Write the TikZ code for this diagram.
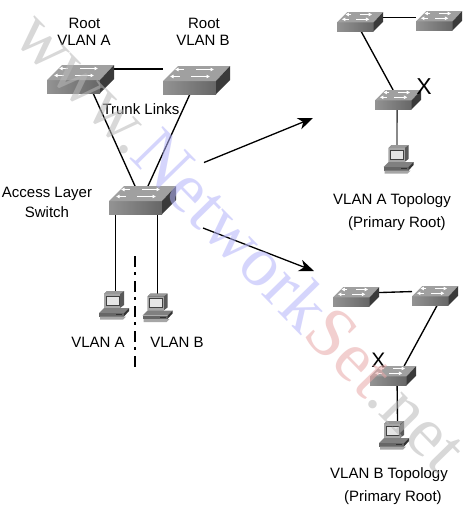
\documentclass[tikz,border=0pt]{standalone}
\usepackage{fontspec}
\setmainfont{Liberation Sans}
\newfontfamily\wmfont{Liberation Serif}
\usetikzlibrary{arrows.meta,backgrounds}
\definecolor{swfront}{HTML}{808080}
\definecolor{swtop}{HTML}{A0A0A0}
\definecolor{swside}{HTML}{3A3A3A}
\definecolor{wmgray}{HTML}{B8B8B8}
\definecolor{wmblue}{HTML}{B4B4FA}
\definecolor{wmred}{HTML}{E8A8A8}
\tikzset{
  link/.style={line width=1.35pt,black},
  bigarrow/.style={line width=1.3pt,-{Stealth[length=15pt,width=12pt,inset=4.5pt]}},
  divider/.style={line width=1.1pt,dash pattern=on 11pt off 5pt on 3pt off 6pt},
  label/.style={font=\fontsize{15}{17}\selectfont,inner sep=0pt,text=black},
  swarrow/.style={white,line width=1.5pt,-{Latex[length=3.5pt,width=4pt]}},
  ghost/.style={inner sep=0pt,outer sep=0pt,draw=none}
}
% name, x, y of front face top-left, scale
\newcommand{\switchicon}[4]{%
  \begin{scope}[shift={(#2,#3)},scale=#4,transform shape]
    \fill[swfront,left color=swfront!85!white,right color=swfront!80!black] (0,0) rectangle (53,13);
    \fill[swtop] (0,0) -- (15,-15) -- (67,-15) -- (53,0) -- cycle;
    \fill[swside] (53,0) -- (67,-15) -- (67,-1) -- (53,13) -- cycle;
    \draw[swarrow] (21,-11.5) -- (12,-11.5);
    \draw[swarrow] (33,-11.5) -- (51,-11.5);
    \draw[swarrow] (17,-4.5) -- (7,-4.5);
    \draw[swarrow] (28,-4.5) -- (47,-4.5);
    \node[ghost,minimum width=67pt,minimum height=28pt] (#1) at (33.5,-1) {};
  \end{scope}}
% name, x, y of the top-left corner
\newcommand{\pcicon}[3]{%
  \begin{scope}[shift={(#2,#3)}]
    \fill[black!65] (5,3) -- (8,0) -- (25,0) -- (25,14) -- (21,17) -- (5,17) -- cycle;
    \fill[black!40] (5,3) -- (8,0) -- (25,0) -- (21,3) -- cycle;
    \fill[black!35] (5,3) rectangle (21,17);
    \fill[black!10] (7,5) rectangle (20,14);
    \draw[black!75,line width=.5pt] (7,5) rectangle (20,14);
    \fill[black!50] (0,22) -- (5,17) -- (30,17) -- (25,22) -- cycle;
    \fill[black!60] (0,22) rectangle (25,25.5);
    \fill[black!80] (25,22) -- (30,17) -- (30,20) -- (25,25.5) -- cycle;
    \fill[black!80] (17,23) rectangle (23,24);
    \fill[black!35] (1,25.5) -- (27,25.5) -- (24,28.5) -- (1,28.5) -- cycle;
    \node[ghost,minimum width=30pt,minimum height=28.5pt] (#1) at (15,14.25) {};
  \end{scope}}
\begin{document}
\begin{tikzpicture}[x=1pt,y=-1pt]
\useasboundingbox (0,0) rectangle (471,512);
% switches
\switchicon{sa}{47}{80}{1}
\switchicon{sb}{163}{81}{1}
\switchicon{sc}{109}{201}{1}
\switchicon{td}{337}{22.4}{.69}
\switchicon{te}{416}{21.4}{.69}
\switchicon{tf}{375}{100.4}{.69}
\switchicon{bd}{333}{297.4}{.69}
\switchicon{be}{412}{296.4}{.69}
\switchicon{bf}{370}{376.4}{.69}
% workstations
\pcicon{pa}{99}{291}
\pcicon{pb}{142.5}{293.5}
\pcicon{pc}{383.5}{145}
\pcicon{pd}{379}{421}
% free ends
\coordinate (aonestart) at (204,162.5);
\coordinate (aoneend) at (313,118);
\coordinate (atwostart) at (203,228);
\coordinate (atwoend) at (314,271);
\coordinate (dtop) at (135,256);
\coordinate (dbot) at (135,372);
\begin{pgfonlayer}{background}
  \fill[white] (0,0) rectangle (471,512);
  \draw[link] ([yshift=-4pt]sa.north east) -- ([yshift=-3pt]sb.north west);
  \draw[link] ([xshift=12.5pt]sa.south) -- ([xshift=-7.5pt]sc.north);
  \draw[link] ([xshift=-6.5pt]sb.south) -- ([xshift=5.5pt]sc.north);
  \draw[link] ([xshift=-27pt]sc.south) -- ([xshift=1.5pt]pa.north);
  \draw[link] ([xshift=15pt]sc.south) -- ([xshift=0pt]pb.north);
  \draw[link] ([yshift=-5.5pt]td.north east) -- ([yshift=-6.5pt]te.north west);
  \draw[link] ([xshift=1pt]td.south) -- ([xshift=-5pt]tf.north);
  \draw[link,black!70] ([xshift=-1pt]tf.south) -- ([xshift=-1.5pt]pc.north);
  \draw[link] ([yshift=-5.5pt]bd.north east) -- ([yshift=-5.5pt]be.north west);
  \draw[link] ([xshift=2pt]be.south) -- ([xshift=11pt]bf.north);
  \draw[link] ([xshift=4pt]bf.south) -- ([xshift=3.5pt]pd.north);
\end{pgfonlayer}
\draw[divider] (dtop) -- (dbot);
\draw[bigarrow] (aonestart) -- (aoneend);
\draw[bigarrow] (atwostart) -- (atwoend);
% labels
\node[label] (l1) at (84.5,23) {Root};
\node[label] (l2) at (84,40.5) {VLAN A};
\node[label] (l3) at (204,23) {Root};
\node[label] (l4) at (203,40.5) {VLAN B};
\node[label] (l5) at (141,109.5) {Trunk Links};
\node[label] (l6) at (47,194) {Access Layer};
\node[label] (l7) at (47,212) {Switch};
\node[label] (l8) at (98,342) {VLAN A};
\node[label] (l9) at (177,342) {VLAN B};
\node[label] (l10) at (392,201) {VLAN A Topology};
\node[label] (l11) at (397,224) {(Primary Root)};
\node[label] (l12) at (389,475) {VLAN B Topology};
\node[label] (l13) at (393,498) {(Primary Root)};
\node[inner sep=0pt,font=\fontsize{23}{23}\selectfont] (x1) at (424,87) {X};
\node[inner sep=0pt,font=\fontsize{21}{21}\selectfont] (x2) at (378.5,360) {X};
% watermark
\node[inner sep=0pt,rotate=-45.7,opacity=.55,font=\wmfont\fontsize{71}{71}\selectfont] (wm) at (242,240)
  {\textcolor{wmgray}{www.}\textcolor{wmblue}{Network}\textcolor{wmred}{Set}\textcolor{wmgray}{.net}};
\end{tikzpicture}
\end{document}
